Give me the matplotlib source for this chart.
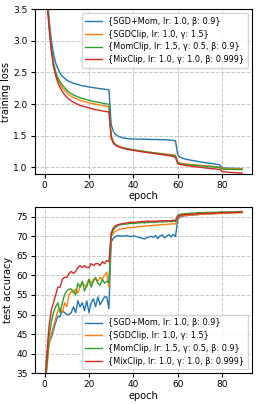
import numpy as np
import matplotlib
matplotlib.use("Agg")
import matplotlib.pyplot as plt

# ---- data ----
epochs = np.arange(90)
labels = ["{SGD+Mom, lr: 1.0, β: 0.9}",
          "{SGDClip, lr: 1.0, γ: 1.5}",
          "{MomClip, lr: 1.5, γ: 0.5, β: 0.9}",
          "{MixClip, lr: 1.0, γ: 1.0, β: 0.999}"]

loss_sgdmom = ([4.6, 3.9, 3.35, 3.02, 2.8, 2.65, 2.56, 2.49, 2.44, 2.41,
                2.38, 2.36, 2.345, 2.33, 2.32, 2.31, 2.30, 2.29, 2.285, 2.28,
                2.27, 2.265, 2.26, 2.255, 2.25, 2.245, 2.24, 2.235, 2.23, 2.225]
               + [1.68, 1.57, 1.52, 1.495, 1.48, 1.47, 1.46, 1.455, 1.452, 1.45]
               + [1.448, 1.447, 1.446, 1.445, 1.445, 1.444, 1.443, 1.442, 1.441, 1.44,
                  1.44, 1.439, 1.438, 1.437, 1.436, 1.435, 1.433, 1.43, 1.425, 1.418]
               + [1.2, 1.16, 1.145, 1.135, 1.125, 1.12, 1.112, 1.106, 1.1, 1.094,
                  1.088, 1.082, 1.076, 1.071, 1.066, 1.061, 1.056, 1.05, 1.045, 1.035]
               + [0.995, 0.99, 0.988, 0.986, 0.985, 0.984, 0.983, 0.982, 0.981, 0.98])
loss_sgdclip = ([4.55, 3.75, 3.25, 2.9, 2.62, 2.47, 2.38, 2.31, 2.26, 2.22,
                 2.18, 2.15, 2.125, 2.105, 2.09, 2.075, 2.06, 2.05, 2.04, 2.03,
                 2.02, 2.012, 2.005, 1.998, 1.99, 1.985, 1.978, 1.972, 1.966, 1.96]
                + [1.45, 1.38, 1.35, 1.333, 1.32, 1.31, 1.301, 1.294, 1.287, 1.281]
                + [1.276, 1.27, 1.265, 1.26, 1.255, 1.25, 1.245, 1.24, 1.236, 1.232,
                   1.228, 1.224, 1.22, 1.216, 1.212, 1.208, 1.204, 1.2, 1.196, 1.19]
                + [1.08, 1.066, 1.06, 1.055, 1.051, 1.047, 1.044, 1.041, 1.038, 1.035,
                   1.032, 1.029, 1.026, 1.023, 1.02, 1.017, 1.014, 1.011, 1.008, 1.004]
                + [0.985, 0.982, 0.98, 0.979, 0.978, 0.977, 0.976, 0.975, 0.975, 0.974])
loss_momclip = ([4.55, 3.77, 3.28, 2.93, 2.66, 2.51, 2.42, 2.35, 2.3, 2.26,
                 2.22, 2.19, 2.165, 2.145, 2.13, 2.115, 2.1, 2.09, 2.08, 2.07,
                 2.06, 2.05, 2.043, 2.036, 2.03, 2.023, 2.016, 2.01, 2.003, 1.997]
                + [1.5, 1.4, 1.36, 1.34, 1.325, 1.315, 1.305, 1.297, 1.29, 1.283]
                + [1.277, 1.271, 1.265, 1.259, 1.254, 1.249, 1.244, 1.239, 1.234, 1.229,
                   1.224, 1.22, 1.215, 1.21, 1.205, 1.2, 1.195, 1.19, 1.185, 1.175]
                + [1.07, 1.058, 1.052, 1.047, 1.043, 1.039, 1.036, 1.033, 1.03, 1.027,
                   1.024, 1.021, 1.018, 1.015, 1.012, 1.009, 1.006, 1.003, 1.0, 0.995]
                + [0.972, 0.97, 0.969, 0.968, 0.967, 0.966, 0.966, 0.965, 0.965, 0.964])
loss_mixclip = ([4.5, 3.7, 3.2, 2.85, 2.6, 2.45, 2.34, 2.26, 2.2, 2.15,
                 2.11, 2.08, 2.05, 2.03, 2.01, 1.995, 1.98, 1.97, 1.96, 1.95,
                 1.94, 1.93, 1.92, 1.91, 1.905, 1.9, 1.893, 1.886, 1.88, 1.875]
                + [1.48, 1.39, 1.35, 1.33, 1.315, 1.304, 1.295, 1.287, 1.28, 1.274]
                + [1.268, 1.262, 1.256, 1.25, 1.245, 1.24, 1.235, 1.23, 1.225, 1.22,
                   1.215, 1.21, 1.205, 1.2, 1.195, 1.19, 1.185, 1.178, 1.17, 1.158]
                + [1.06, 1.045, 1.038, 1.032, 1.027, 1.022, 1.017, 1.012, 1.008, 1.004,
                   1.0, 0.996, 0.992, 0.988, 0.984, 0.98, 0.977, 0.974, 0.97, 0.966]
                + [0.935, 0.928, 0.924, 0.921, 0.918, 0.916, 0.914, 0.912, 0.911, 0.91])

acc_sgdmom = ([30, 38, 43, 44, 46, 48, 49.5, 49.5, 51, 50.5,
               50, 50, 50.5, 52, 50.5, 53.5, 52, 53, 51, 53.5,
               50.5, 53, 54, 52, 54.5, 52.5, 53.5, 54.5, 54.5, 51.5]
              + [68.5, 69.5, 69.9, 70.2, 70.0, 70.1, 70.0, 70.2, 70.0, 69.9,
                 70.1, 70.0, 69.8, 69.6, 69.5, 69.3, 69.6, 69.8, 70.0, 69.7,
                 70.2, 69.4, 70.1, 70.3, 69.6, 70.0, 70.4, 69.8, 70.5, 69.9]
              + [74.3, 74.9, 75.1, 75.2, 75.3, 75.3, 75.4, 75.4, 75.5, 75.5,
                 75.6, 75.6, 75.6, 75.7, 75.7, 75.7, 75.8, 75.8, 75.8, 75.9,
                 75.9, 75.9, 76.0, 76.0, 76.0, 76.0, 76.0, 76.1, 76.1, 76.1])
acc_sgdclip = ([30, 36, 42, 45, 47, 49, 51, 51.5, 50.5, 53,
                52, 55, 56, 55.5, 56.5, 55.5, 57, 58, 57.5, 57,
                59, 58, 59, 59, 58.5, 59.5, 59, 60, 60.8, 57]
               + [69.8, 70.8, 71.3, 71.6, 71.8, 71.9, 72.0, 72.1, 72.2, 72.2,
                  72.3, 72.3, 72.4, 72.5, 72.5, 72.6, 72.6, 72.7, 72.7, 72.8,
                  72.8, 72.9, 72.9, 73.0, 73.0, 73.0, 73.1, 73.1, 73.2, 73.1]
               + [74.9, 75.1, 75.2, 75.3, 75.3, 75.4, 75.4, 75.5, 75.5, 75.5,
                  75.6, 75.6, 75.6, 75.7, 75.7, 75.7, 75.7, 75.8, 75.8, 75.8,
                  75.8, 75.9, 75.9, 75.9, 75.9, 76.0, 76.0, 76.0, 76.0, 76.0])
acc_momclip = ([30, 37, 44, 48, 50.5, 52, 53, 50.5, 53, 55,
                56, 56.5, 56.5, 56, 55, 58, 57, 58.5, 56, 57.5,
                59, 57, 58.5, 59.5, 58, 57.5, 59, 58, 58.5, 58.2]
               + [70.3, 71.6, 72.3, 72.7, 72.9, 73.0, 73.1, 73.1, 73.2, 73.3,
                  73.2, 73.3, 73.4, 73.4, 73.5, 73.4, 73.5, 73.5, 73.6, 73.5,
                  73.6, 73.6, 73.7, 73.6, 73.7, 73.7, 73.8, 73.7, 73.8, 73.8]
               + [75.4, 75.6, 75.7, 75.7, 75.8, 75.8, 75.9, 75.9, 75.9, 76.0,
                  76.0, 76.0, 76.0, 76.1, 76.1, 76.1, 76.1, 76.1, 76.1, 76.2,
                  76.2, 76.2, 76.2, 76.2, 76.2, 76.2, 76.2, 76.3, 76.3, 76.3])
acc_mixclip = ([31, 40, 47, 51, 53, 55, 57, 57, 59, 59.5,
                59.5, 60.5, 61, 60.5, 61, 62, 62.5, 62, 62.5, 62,
                62, 63, 62.5, 63, 63, 62.5, 63.5, 63, 63.8, 63.5]
               + [70.8, 72.2, 72.7, 72.9, 73.1, 73.2, 73.3, 73.4, 73.5, 73.6,
                  73.5, 73.6, 73.7, 73.7, 73.8, 73.7, 73.9, 73.8, 73.8, 73.9,
                  73.8, 73.9, 73.9, 74.0, 73.9, 74.0, 73.9, 74.0, 74.1, 74.0]
               + [75.1, 75.3, 75.4, 75.5, 75.6, 75.6, 75.6, 75.7, 75.7, 75.8,
                  75.8, 75.8, 75.8, 75.9, 75.9, 75.9, 75.9, 75.9, 76.0, 76.0,
                  76.0, 76.0, 76.0, 76.1, 76.1, 76.1, 76.1, 76.1, 76.1, 76.2])

losses = [loss_sgdmom, loss_sgdclip, loss_momclip, loss_mixclip]
accs = [acc_sgdmom, acc_sgdclip, acc_momclip, acc_mixclip]
colors = ["C0", "C1", "C2", "C3"]

# 1. figure
fig = plt.figure(figsize = (2.58, 4.04), dpi = 100)
ax1 = fig.add_axes([0.1345, 0.5693, 0.842, 0.4077])
ax2 = fig.add_axes([0.1345, 0.076, 0.842, 0.411])

fs_tick = 6.5
fs_label = 7
fs_leg = 5.9
lw = 1.0

# 2. training loss
for y, c, lab in zip(losses, colors, labels):
    ax1.plot(epochs, y, color = c, linewidth = lw, label = lab)
ax1.set_ylim(0.894, 3.5)
ax1.set_xlabel("epoch", fontsize = fs_label, labelpad = 1)
ax1.set_ylabel("training loss", fontsize = fs_label, labelpad = 2)
ax1.set_yticks([1.0, 1.5, 2.0, 2.5, 3.0, 3.5])
ax1.legend(loc = "upper right", fontsize = fs_leg, handlelength = 2.0, borderpad = 0.45, labelspacing = 0.45)

# 3. test accuracy
for y, c, lab in zip(accs, colors, labels):
    ax2.plot(epochs, y, color = c, linewidth = lw, label = lab)
ax2.set_ylim(35, 77.4)
ax2.set_xlabel("epoch", fontsize = fs_label, labelpad = 1)
ax2.set_ylabel("test accuracy", fontsize = fs_label, labelpad = 2)
ax2.set_yticks([35, 40, 45, 50, 55, 60, 65, 70, 75])
ax2.legend(loc = "lower right", fontsize = fs_leg, handlelength = 2.0, borderpad = 0.45, labelspacing = 0.45)

for ax in [ax1, ax2]:
    ax.set_xticks([0, 20, 40, 60, 80])
    ax.grid(True, linestyle = "--", color = "#c8c8c8", linewidth = 0.7)
    ax.tick_params(axis = "both", labelsize = fs_tick, length = 3, pad = 2)

plt.savefig("out.png", dpi = 100)
